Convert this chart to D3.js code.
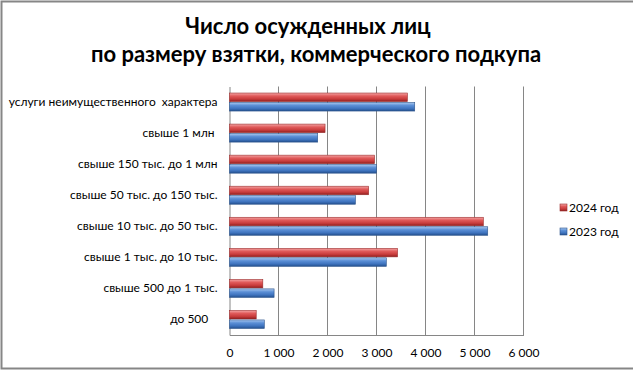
<!DOCTYPE html>
<html>
<head>
<meta charset="utf-8">
<script src="https://d3js.org/d3.v7.min.js"></script>
<style>
  body { margin: 0; background: #fff; }
  svg text { font-family: Lato, "Open Sans", sans-serif; fill: #000; white-space: pre; }
</style>
</head>
<body>
<svg id="chart" width="633" height="370"></svg>
<script>
// categories, top to bottom
var categories = [
    "услуги неимущественного  характера",
    "свыше 1 млн ",
    "свыше 150 тыс. до 1 млн",
    "свыше 50 тыс. до 150 тыс.",
    "свыше 10 тыс. до 50 тыс.",
    "свыше 1 тыс. до 10 тыс.",
    "свыше 500 до 1 тыс.",
    "до 500   "
];
var values2024 = [3630, 1950, 2960, 2840, 5180, 3430, 680, 545];
var values2023 = [3780, 1800, 3000, 2570, 5270, 3200, 910, 710];
var seriesNames = ["2024 год", "2023 год"];
var xTicks = [0, 1000, 2000, 3000, 4000, 5000, 6000];
var titleLines = ["Число осужденных лиц", "по размеру взятки, коммерческого подкупа"];

var svg = d3.select("#chart");
var width = +svg.attr("width"), height = +svg.attr("height");

var margin = {left: 229.5, right: 109.5, top: 86.5, bottom: 35};

var x = d3.scaleLinear()
    .domain([0, 6000])
    .range([margin.left, width - margin.right]);

var y = d3.scaleBand()
    .domain(categories)
    .range([margin.top, height - margin.bottom])
    .paddingInner(0.42)
    .paddingOuter(0.21);

var sub = d3.scaleBand()
    .domain(seriesNames)
    .range([0, y.bandwidth()])
    .paddingInner(0.1);

// gradients for the bars
var defs = svg.append("defs");
var gradColors = {
    "2024 год": ["#f4a6a6", "#e05a5a", "#c83c3c", "#8e1f1f"],
    "2023 год": ["#a9c8f0", "#5b8fd6", "#3f74bf", "#24508e"]
};
seriesNames.forEach(function(s, i) {
    var g = defs.append("linearGradient")
        .attr("id", "grad" + i)
        .attr("x1", 0).attr("y1", 0).attr("x2", 0).attr("y2", 1);
    var c = gradColors[s];
    g.append("stop").attr("offset", "0%").attr("stop-color", c[0]);
    g.append("stop").attr("offset", "35%").attr("stop-color", c[1]);
    g.append("stop").attr("offset", "70%").attr("stop-color", c[2]);
    g.append("stop").attr("offset", "100%").attr("stop-color", c[3]);
});

// outer border
svg.append("rect")
    .attr("x", 1.5).attr("y", 1.5)
    .attr("width", width + 5).attr("height", height - 3)
    .attr("fill", "none")
    .attr("stroke", "#868686")
    .attr("stroke-width", 2);

// title
svg.append("g")
    .selectAll("text")
    .data(titleLines)
    .enter().append("text")
    .attr("x", function(d, i) { return i == 0 ? 308 : 316; })
    .attr("y", function(d, i) { return 34 + i * 28; })
    .attr("text-anchor", "middle")
    .style("font-family", "Lato, sans-serif")
    .style("font-weight", "bold")
    .style("font-size", "22px")
    .text(function(d) { return d; });

// grid lines
svg.append("g")
    .selectAll("line")
    .data(xTicks.slice(1))
    .enter().append("line")
    .attr("x1", function(d) { return x(d); })
    .attr("x2", function(d) { return x(d); })
    .attr("y1", margin.top)
    .attr("y2", height - margin.bottom)
    .attr("stroke", "#868686")
    .attr("stroke-width", 1);

// x axis
var xAxis = svg.append("g")
    .attr("transform", "translate(0," + (height - margin.bottom) + ")")
    .call(d3.axisBottom(x)
        .tickValues(xTicks)
        .tickSize(0)
        .tickPadding(13)
        .tickFormat(function(d) { return d3.format(",")(d).replace(",", " "); }));
xAxis.select(".domain").attr("stroke", "#868686");
xAxis.selectAll("text").style("font-size", "12px").style("font-family", "Lato, sans-serif");

// y axis
var yAxis = svg.append("g")
    .attr("transform", "translate(" + margin.left + ",0)")
    .call(d3.axisLeft(y).tickSize(0).tickPadding(12));
yAxis.select(".domain").attr("stroke", "#868686");
yAxis.selectAll("text").style("font-size", "12px").style("font-family", "Lato, sans-serif");

// bars
var rows = categories.map(function(c, i) {
    return {cat: c, vals: [
        {name: seriesNames[0], v: values2024[i], idx: 0},
        {name: seriesNames[1], v: values2023[i], idx: 1}
    ]};
});

var groups = svg.append("g")
    .selectAll("g")
    .data(rows)
    .enter().append("g")
    .attr("transform", function(d) { return "translate(0," + y(d.cat) + ")"; });

groups.selectAll("rect")
    .data(function(d) { return d.vals; })
    .enter().append("rect")
    .attr("x", x(0))
    .attr("y", function(d) { return sub(d.name); })
    .attr("width", function(d) { return x(d.v) - x(0); })
    .attr("height", sub.bandwidth())
    .attr("fill", function(d) { return "url(#grad" + d.idx + ")"; })
    .attr("stroke", function(d) { return d.idx == 0 ? "#9b2d2d" : "#2d558c"; })
    .attr("stroke-width", 0.6);

// legend
var legend = svg.append("g")
    .selectAll("g")
    .data(seriesNames)
    .enter().append("g")
    .attr("transform", function(d, i) { return "translate(560," + (204 + i * 24) + ")"; });

legend.append("rect")
    .attr("width", 7).attr("height", 7)
    .attr("fill", function(d, i) { return "url(#grad" + i + ")"; })
    .attr("stroke", function(d, i) { return i == 0 ? "#9b2d2d" : "#2d558c"; })
    .attr("stroke-width", 0.6);

legend.append("text")
    .attr("x", 9)
    .attr("y", 4)
    .attr("dy", "0.35em")
    .style("font-size", "12px")
    .style("font-family", "Lato, sans-serif")
    .text(function(d) { return d; });
</script>
</body>
</html>
